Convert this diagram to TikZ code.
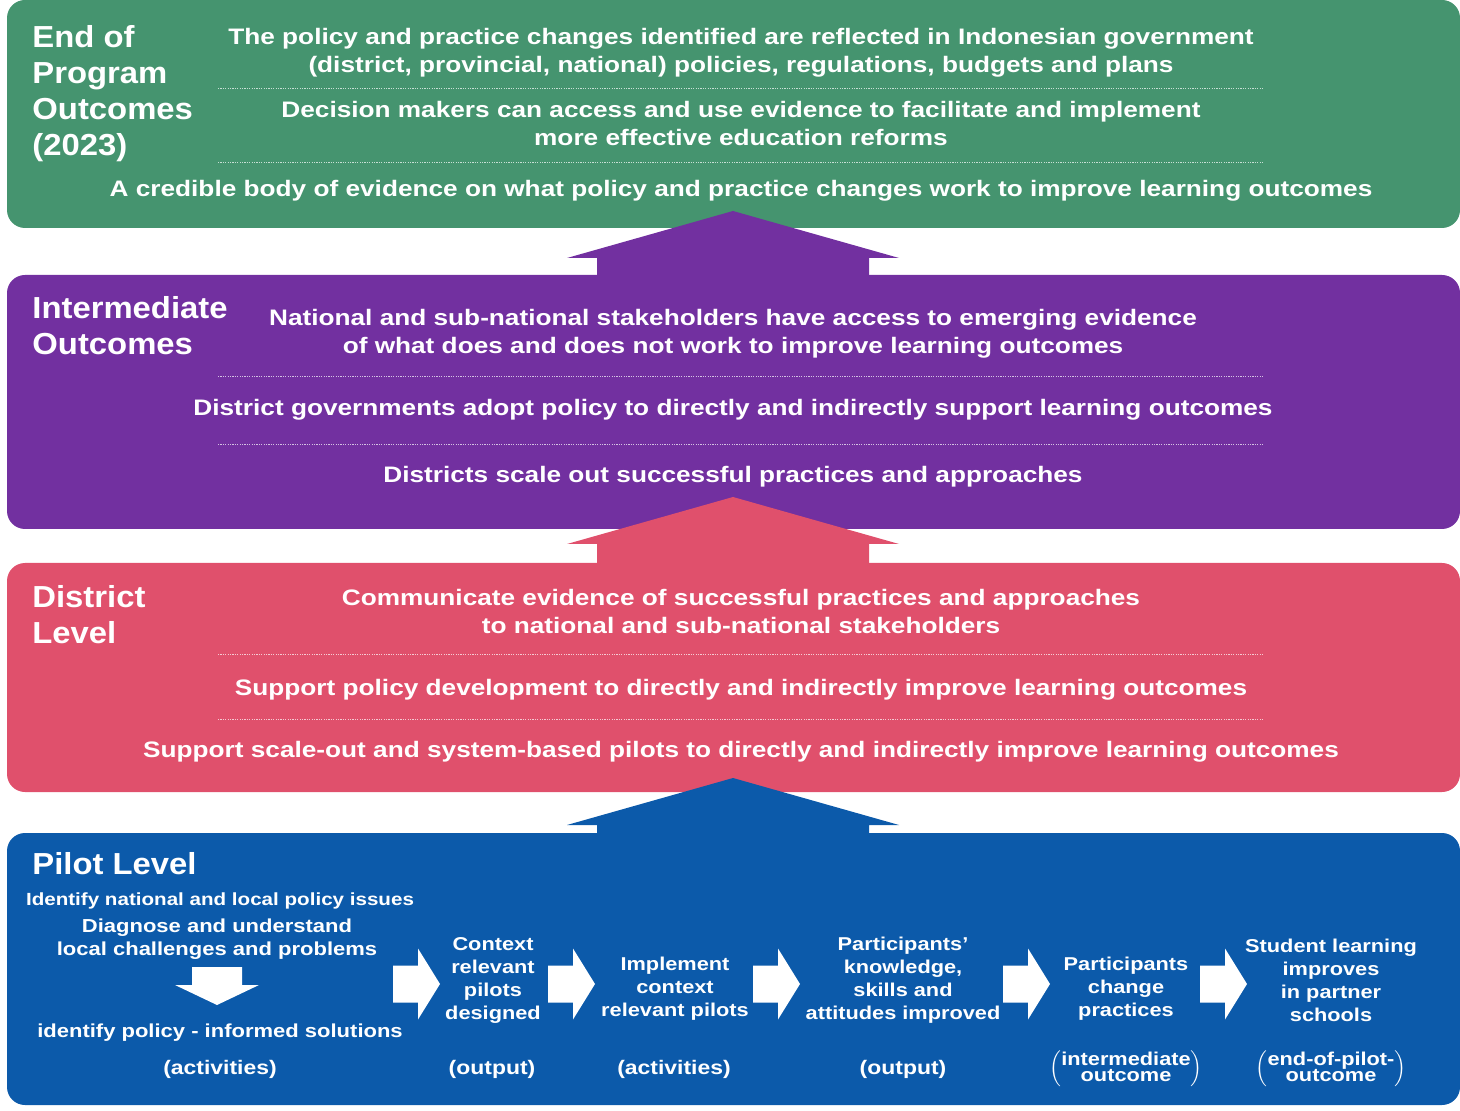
\documentclass[tikz,border=0pt]{standalone}
\usepackage{fontspec}
\setmainfont{Liberation Sans}[FakeStretch=1.17]
\newfontfamily\headfont{Liberation Sans}[FakeStretch=1.08]
\definecolor{eopgreen}{RGB}{69,148,111}
\definecolor{midpurple}{RGB}{114,48,160}
\definecolor{distred}{RGB}{224,80,108}
\definecolor{pilotblue}{RGB}{12,90,170}
\tikzset{
  every picture/.style={x=0.5pt, y=-0.5pt},
  tier/.style={rounded corners=9pt},
  heading/.style={text=white, inner sep=0pt, align=left, font=\headfont\bfseries\fontsize{15.2}{18}\selectfont},
  claim/.style={text=white, inner sep=0pt, align=center, font=\bfseries\fontsize{11.2}{14}\selectfont},
  stage/.style={text=white, inner sep=0pt, align=center, font=\bfseries\fontsize{9.3}{11.5}\selectfont},
  lefty/.style={stage, font=\bfseries\fontsize{9.4}{11.8}\selectfont},
  kind/.style={text=white, inner sep=0pt, font=\bfseries\fontsize{9.8}{11.5}\selectfont},
  rule/.style={white, opacity=0.7, line width=0.4pt, dash pattern=on 0.6pt off 0.6pt},
  uparrow/.pic={\fill[#1] (0,0) -- (166,47) -- (136,47) -- (136,70) -- (-136,70) -- (-136,47) -- (-166,47) -- cycle;},
  rarrow/.pic={\fill[white] (0,-18.5) -- (25,-18.5) -- (25,-35.5) -- (47,0) -- (25,35.5) -- (25,18.5) -- (0,18.5) -- cycle;},
  darrow/.pic={\fill[white] (-25,0) -- (25,0) -- (25,18) -- (42,18) -- (0,38) -- (-42,18) -- (-25,18) -- cycle;},
}

\begin{document}
\begin{tikzpicture}
  % four tiers, pilot at the bottom, program outcomes on top
  \useasboundingbox (0,0) rectangle (1460,1111);
  \fill[tier, eopgreen] (7,0) rectangle (1460,228);
  \fill[tier, midpurple] (7,275) rectangle (1460,529);
  \fill[tier, distred] (7,563) rectangle (1460,792);
  \fill[tier, pilotblue] (7,833) rectangle (1460,1105);
  \pic at (733,211) {uparrow=midpurple};
  \pic at (733,497) {uparrow=distred};
  \pic at (733,778) {uparrow=pilotblue};

  \node[heading, anchor=north west] (eopT) at (32,25) {End of\\Program\\Outcomes\\(2023)};
  \node[claim, anchor=north] (eop1) at (741,28) {The policy and practice changes identified are reflected in Indonesian government\\(district, provincial, national) policies, regulations, budgets and plans};
  \node[claim, anchor=north] (eop2) at (741,101) {Decision makers can access and use evidence to facilitate and implement\\more effective education reforms};
  \node[claim, anchor=base] (eop3) at (741,197) {A credible body of evidence on what policy and practice changes work to improve learning outcomes};
  \draw[rule] (218,88) -- (1263,88);
  \draw[rule] (218,162) -- (1263,162);

  \node[heading, anchor=north west] (midT) at (32,296) {Intermediate\\Outcomes};
  \node[claim, anchor=north] (mid1) at (733,309) {National and sub-national stakeholders have access to emerging evidence\\of what does and does not work to improve learning outcomes};
  \node[claim, anchor=base] (mid2) at (733,416) {District governments adopt policy to directly and indirectly support learning outcomes};
  \node[claim, anchor=base] (mid3) at (733,483) {Districts scale out successful practices and approaches};
  \draw[rule] (218,376) -- (1263,376);
  \draw[rule] (218,444) -- (1263,444);

  \node[heading, anchor=north west] (distT) at (32,585) {District\\Level};
  \node[claim, anchor=north] (dist1) at (741,589) {Communicate evidence of successful practices and approaches\\to national and sub-national stakeholders};
  \node[claim, anchor=base] (dist2) at (741,695) {Support policy development to directly and indirectly improve learning outcomes};
  \node[claim, anchor=base] (dist3) at (741,757) {Support scale-out and system-based pilots to directly and indirectly improve learning outcomes};
  \draw[rule] (218,654) -- (1263,654);
  \draw[rule] (218,719) -- (1263,719);

  \node[heading, anchor=base west] (pilotT) at (32,874) {Pilot Level};
  \node[lefty, font=\bfseries\fontsize{8.8}{11}\selectfont, anchor=base] (issues) at (220,905) {Identify national and local policy issues};
  \node[lefty, anchor=north] (diagnose) at (217,918) {Diagnose and understand\\local challenges and problems};
  \pic at (217,967) {darrow};
  \node[lefty, anchor=base] (solutions) at (220,1037) {identify policy - informed solutions};
  \node[stage, anchor=north] (designed) at (493,937) {Context\\relevant\\pilots\\designed};
  \node[stage, anchor=north] (implement) at (675,957) {Implement\\context\\relevant pilots};
  \node[stage, anchor=north] (skills) at (903,937) {Participants'\\knowledge,\\skills and\\attitudes improved};
  \node[stage, anchor=north] (practice) at (1126,957) {Participants\\change\\practices};
  \node[stage, anchor=north] (learning) at (1331,939) {Student learning\\improves\\in partner\\schools};
  \pic at (393,984) {rarrow};
  \pic at (548,984) {rarrow};
  \pic at (753,984) {rarrow};
  \pic at (1003,984) {rarrow};
  \pic at (1200,984) {rarrow};

  \node[kind, anchor=base] (k1) at (220,1074) {(activities)};
  \node[kind, anchor=base] (k2) at (492,1074) {(output)};
  \node[kind, anchor=base] (k3) at (674,1074) {(activities)};
  \node[kind, anchor=base] (k4) at (903,1074) {(output)};
  \node[stage] (k5) at (1126,1069) {$\left(\begin{tabular}{@{}c@{}}intermediate\\[-3.5pt]outcome\end{tabular}\right)$};
  \node[stage] (k6) at (1331,1069) {$\left(\begin{tabular}{@{}c@{}}end-of-pilot-\\[-3.5pt]outcome\end{tabular}\right)$};
\end{tikzpicture}
\end{document}
